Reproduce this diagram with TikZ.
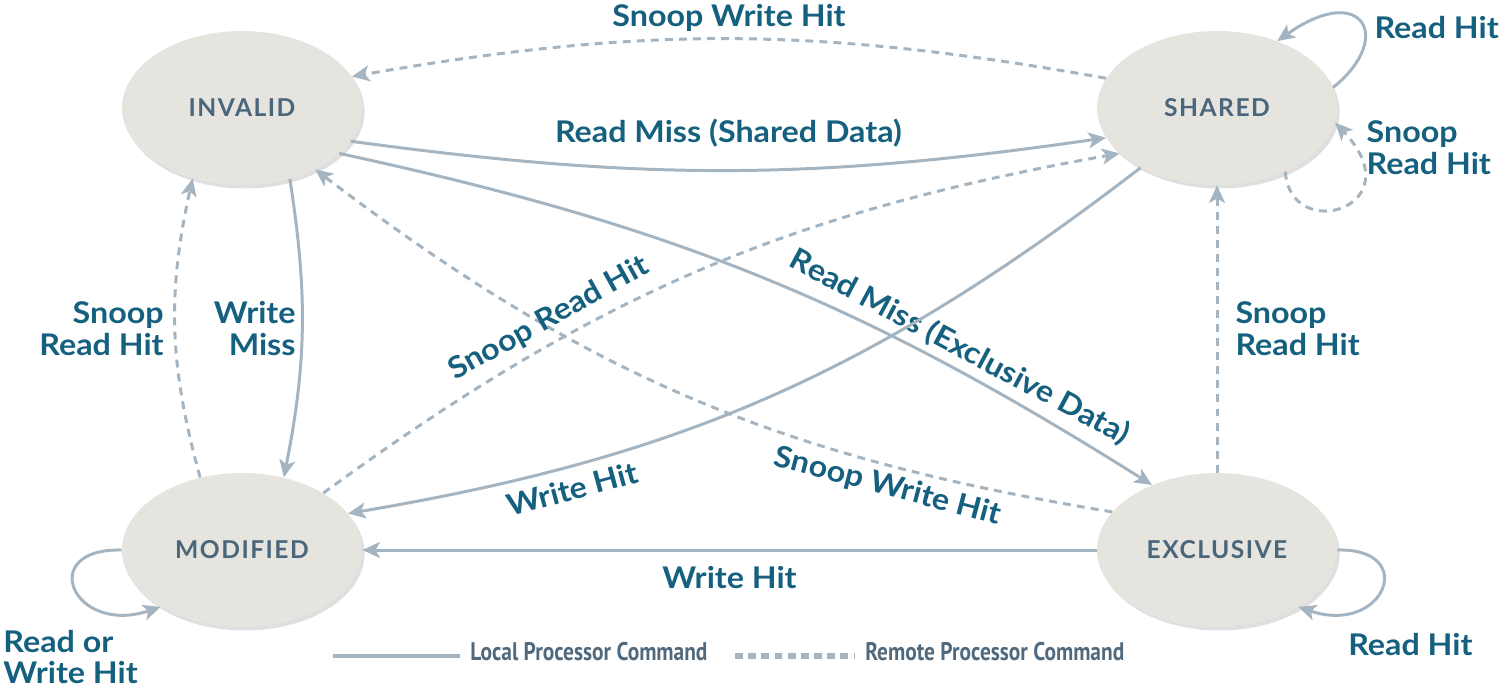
\documentclass[tikz,border=0pt]{standalone}
\usepackage{fontspec}
\setmainfont{Lato}
\newfontfamily\etiqfont[FakeStretch=1.08]{Lato}
\newfontfamily\legendefont[FakeStretch=0.84]{PT Sans}
\usetikzlibrary{arrows.meta,shapes.geometric,shadows}
\definecolor{fondetat}{HTML}{E5E4DF}
\definecolor{texteetat}{HTML}{4A667B}
\definecolor{trait}{HTML}{A5B4C1}
\definecolor{etiq}{HTML}{15607F}
\definecolor{legende}{HTML}{50697D}
\begin{document}
\begin{tikzpicture}[x=0.02cm,y=0.02cm]
		\tikzstyle{etat}=[ellipse,fill=fondetat,minimum width=4.8cm,minimum height=3.08cm,inner sep=0pt,text=texteetat,font={\fontsize{14}{16}\selectfont\bfseries\addfontfeature{LetterSpace=6}},drop shadow={opacity=0.25,shadow xshift=1.5pt,shadow yshift=-2pt}]
		\tikzstyle{local}=[draw=trait,line width=1.7pt,-{Stealth[length=10pt,width=9pt,inset=2.5pt]}]
		\tikzstyle{distant}=[local,dash pattern=on 4.5pt off 3.5pt]
		\tikzstyle{etiquette}=[text=etiq,inner sep=0pt,font=\etiqfont\fontsize{17}{18}\selectfont\bfseries]
		\tikzstyle{legende}=[text=legende,inner sep=0pt,font=\legendefont\fontsize{14.5}{16}\selectfont\bfseries]
		\def\ColG{242}
		\def\ColD{1217}
		\def\LigneH{590}
		\def\LigneB{148}
		\useasboundingbox (0,0) rectangle (1500,698);
		\node[etat] (Inv) at (\ColG,\LigneH) {INVALID};
		\node[etat] (Sha) at (\ColD,\LigneH) {SHARED};
		\node[etat] (Mod) at (\ColG,\LigneB) {MODIFIED};
		\node[etat] (Exc) at (\ColD,\LigneB) {EXCLUSIVE};
		\draw[distant] (Sha.165) to[bend right=10] node[etiquette,midway,yshift=0.42cm] {Snoop Write Hit} (Inv.16);
		\draw[local] (Inv.-17) to[bend right=8] node[etiquette,midway,yshift=0.74cm] {Read Miss (Shared Data)} (Sha.195);
		\draw[local] (Inv.-25) to[bend left=10] node[etiquette,sloped,pos=0.75,above=0.12cm] {Read Miss (Exclusive Data)} (Exc.135);
		\draw[local] (Inv.-56) to[bend left=10] node[etiquette,midway,left=0.1cm,align=right] {Write\\Miss} (Mod.60);
		\draw[distant] (Mod.120) to[bend left=14] node[etiquette,midway,left=0.2cm,align=right] {Snoop\\Read Hit} (Inv.235);
		\draw[distant] (Exc.160) to[bend left=14] node[etiquette,sloped,pos=0.24,below=0.12cm] {Snoop Write Hit} (Inv.-40);
		\draw[distant] (Mod.35) to[bend left=13] node[etiquette,sloped,pos=0.31,above=0.16cm] {Snoop Read Hit} (Sha.205);
		\draw[local] (Sha.218) to[bend left=14] node[etiquette,sloped,pos=0.76,below=0.2cm] {Write Hit} (Mod.19);
		\draw[local] (Exc.180) -- node[etiquette,below=0.3cm] {Write Hit} (Mod.0);
		\draw[distant] (Exc.90) -- node[etiquette,right=0.34cm,align=left] {Snoop\\Read Hit} (Sha.270);
		% boucles
		\draw[local] (Sha.10) .. controls +(62,50) and +(85,60) .. (Sha.48) node[etiquette,pos=0.45,right=0.2cm] {Read Hit};
		\draw[distant] (Sha.-43) .. controls +(5,-73) and +(80,-85) .. (Sha.-7) node[etiquette,pos=1,anchor=west,xshift=0.6cm,yshift=-0.5cm,align=left] {Snoop\\Read Hit};
		\draw[local] (Mod.180) .. controls +(-86,2) and +(-88,-29) .. (Mod.215) node[etiquette,pos=1,xshift=-1.8cm,yshift=-1cm,align=left] {Read or\\Write Hit};
		\draw[local] (Exc.0) .. controls +(82,2) and +(86,-29) .. (Exc.-35) node[etiquette,pos=1,xshift=2.24cm,yshift=-0.76cm] {Read Hit};
		% legende
		\draw[trait,line width=2.8pt] (333,42) -- (460,42);
		\node[legende,anchor=west] (LegLoc) at (470,46) {Local Processor Command};
		\draw[trait,line width=3.2pt,dash pattern=on 4.5pt off 3pt] (735,42) -- (855,42);
		\node[legende,anchor=west] (LegDis) at (865,46) {Remote Processor Command};
\end{tikzpicture}
\end{document}
